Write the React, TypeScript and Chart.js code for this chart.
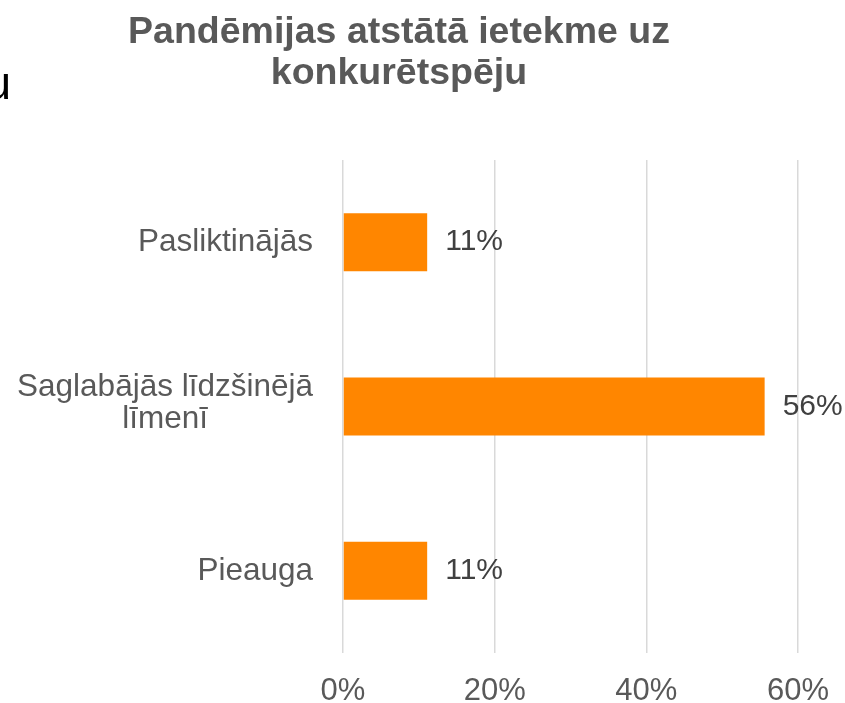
import React, { useEffect, useRef } from "react";
import { Chart, registerables } from "chart.js";

Chart.register(...registerables);

const TITLE_LINES = ["Pandēmijas atstātā ietekme uz", "konkurētspēju"];
const CATEGORIES: string[][] = [["Pasliktinājās"], ["Saglabājās līdzšinējā", "līmenī"], ["Pieauga"]];
const VALUES = [11.1, 55.6, 11.1];
const VALUE_LABELS = ["11%", "56%", "11%"];
const X_TICKS = [0, 20, 40, 60];
const STRAY_TEXT = "u";

const FONT = "'Liberation Sans', Arial, sans-serif";
const BAR_COLOR = "#FF8600";

const customPlugin = {
  id: "custom",
  afterDraw(chart: any) {
    const ctx = chart.ctx;
    const area = chart.chartArea;
    ctx.save();
    // title
    ctx.fillStyle = "#595959";
    ctx.font = `bold 37.5px ${FONT}`;
    ctx.textAlign = "center";
    ctx.textBaseline = "alphabetic";
    TITLE_LINES.forEach((line, i) => ctx.fillText(line, 399, 43 + i * 41));
    // stray partial text at the left
    ctx.fillStyle = "#000000";
    ctx.font = `46px ${FONT}`;
    ctx.textAlign = "left";
    ctx.fillText(STRAY_TEXT, -14.5, 99);
    // category labels
    const yScale = chart.scales.y;
    ctx.fillStyle = "#595959";
    ctx.font = `31.5px ${FONT}`;
    ctx.textBaseline = "middle";
    ctx.textAlign = "center";
    const lh = 32;
    CATEGORIES.forEach((lines, i) => {
      const yc = yScale.getPixelForValue(i);
      const w = Math.max(...lines.map((l) => ctx.measureText(l).width));
      const right = area.left - 30;
      const cx = right - w / 2;
      const y0 = yc - ((lines.length - 1) * lh) / 2 - (lines.length > 1 ? 3 : 0);
      lines.forEach((l, j) => ctx.fillText(l, cx, y0 + j * lh));
    });
    // data labels
    const meta = chart.getDatasetMeta(0);
    ctx.fillStyle = "#404040";
    ctx.textAlign = "left";
    ctx.font = `30px ${FONT}`;
    meta.data.forEach((bar: any, i: number) => {
      ctx.fillText(VALUE_LABELS[i], bar.x + 18, bar.y);
    });
    ctx.restore();
  },
};

export default function App() {
  const ref = useRef<HTMLCanvasElement>(null);
  useEffect(() => {
    if (!ref.current) return;
    const chart = new Chart(ref.current, {
      type: "bar",
      data: {
        labels: CATEGORIES.map((c) => c.join(" ")),
        datasets: [
          {
            data: VALUES,
            backgroundColor: BAR_COLOR,
            borderWidth: 0,
            categoryPercentage: 1,
            barPercentage: 0.353,
          },
        ],
      },
      options: {
        indexAxis: "y",
        responsive: false,
        animation: false,
        layout: { padding: { top: 160, right: 47, left: 0, bottom: 0 } },
        plugins: {
          legend: { display: false },
          title: { display: false },
          tooltip: { enabled: false },
        },
        scales: {
          x: {
            min: 0,
            max: 60,
            afterBuildTicks: (scale: any) => {
              scale.ticks = X_TICKS.map((v) => ({ value: v }));
            },
            afterFit: (scale: any) => {
              scale.height = 50;
              scale.paddingLeft = 0;
              scale.paddingRight = 0;
            },
            ticks: {
              callback: (v: any) => `${v}%`,
              color: "#595959",
              font: { family: FONT, size: 31 },
              padding: 20,
              maxRotation: 0,
            },
            grid: { color: "#D9D9D9", lineWidth: 1.5, drawTicks: false },
            border: { display: false },
          },
          y: {
            afterFit: (scale: any) => {
              scale.width = 343;
              scale.paddingTop = 0;
              scale.paddingBottom = 0;
            },
            ticks: { display: false },
            grid: { display: false, drawTicks: false },
            border: { display: false },
          },
        },
      },
      plugins: [customPlugin],
    });
    return () => chart.destroy();
  }, []);
  return (
    <div style={{ position: "absolute", left: 0, top: 0, width: 845, height: 703, background: "#fff" }}>
      <canvas ref={ref} width={845} height={703} style={{ display: "block" }} />
    </div>
  );
}
